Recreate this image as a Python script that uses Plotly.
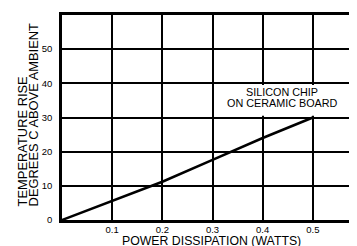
import plotly.graph_objects as go

power_w = [0.0, 0.1, 0.2, 0.3, 0.4, 0.5]
temp_rise_c = [0.0, 5.6, 11.2, 17.6, 24.0, 30.0]
x_tick_vals = [0.1, 0.2, 0.3, 0.4, 0.5]
x_tick_text = ["0.1", "0.2", "0.3", "0.4", "0.5"]
y_tick_vals = [0, 10, 20, 30, 40, 50]
y_tick_text = ["0", "10", "20", "30", "40", "50"]
series_label_lines = ["SILICON CHIP", "ON CERAMIC BOARD"]
x_title = "POWER DISSIPATION (WATTS)"
y_title_lines = ["TEMPERATURE RISE", "DEGREES C ABOVE AMBIENT"]

font_family = "Liberation Sans, Arial, sans-serif"

fig = go.Figure()
fig.add_trace(go.Scatter(x=power_w, y=temp_rise_c, mode="lines",
                         line=dict(color="black", width=2.5),
                         showlegend=False, hoverinfo="skip"))

# white label box masking the grid
fig.add_shape(type="rect", xref="x", yref="y", x0=0.303, x1=0.588, y0=30.5, y1=39.5,
              fillcolor="white", line=dict(width=0), layer="between")

for txt, yy in zip(series_label_lines, [37.4, 34.2]):
    fig.add_annotation(x=0.4385, y=yy, xref="x", yref="y", text=txt,
                       showarrow=False, xanchor="center", yanchor="middle",
                       font=dict(family=font_family, size=10.8, color="black"))

for txt, xx in zip(y_title_lines, [-0.135, -0.096]):
    fig.add_annotation(x=xx, y=0.055, xref="paper", yref="paper", text=txt,
                       textangle=-90, showarrow=False, xanchor="center", yanchor="bottom",
                       font=dict(family=font_family, size=12.9, color="black"))

fig.add_annotation(x=0.507, y=-0.104, xref="paper", yref="paper", text=x_title,
                   showarrow=False, xanchor="center", yanchor="middle",
                   font=dict(family=font_family, size=12.3, color="black"))

fig.update_layout(
    template="none",
    width=349, height=238,
    margin=dict(l=54, r=0, t=7, b=26),
    paper_bgcolor="white", plot_bgcolor="white",
    font=dict(family=font_family, size=9, color="black"),
    xaxis=dict(range=[0, 0.588], tickvals=x_tick_vals, ticktext=x_tick_text,
               showgrid=True, gridcolor="black", gridwidth=2,
               showline=True, linecolor="black", linewidth=2.5, mirror=True,
               zeroline=False, ticks="", ticklabelstandoff=-1, automargin=False,
               tickfont=dict(size=9.5)),
    yaxis=dict(range=[0, 60], tickvals=y_tick_vals, ticktext=y_tick_text,
               showgrid=True, gridcolor="black", gridwidth=2,
               showline=True, linecolor="black", linewidth=2.5, mirror=False,
               zeroline=False, ticks="", ticklabelstandoff=5, automargin=False,
               tickfont=dict(size=9.5)),
)

fig.write_html("out.html")
